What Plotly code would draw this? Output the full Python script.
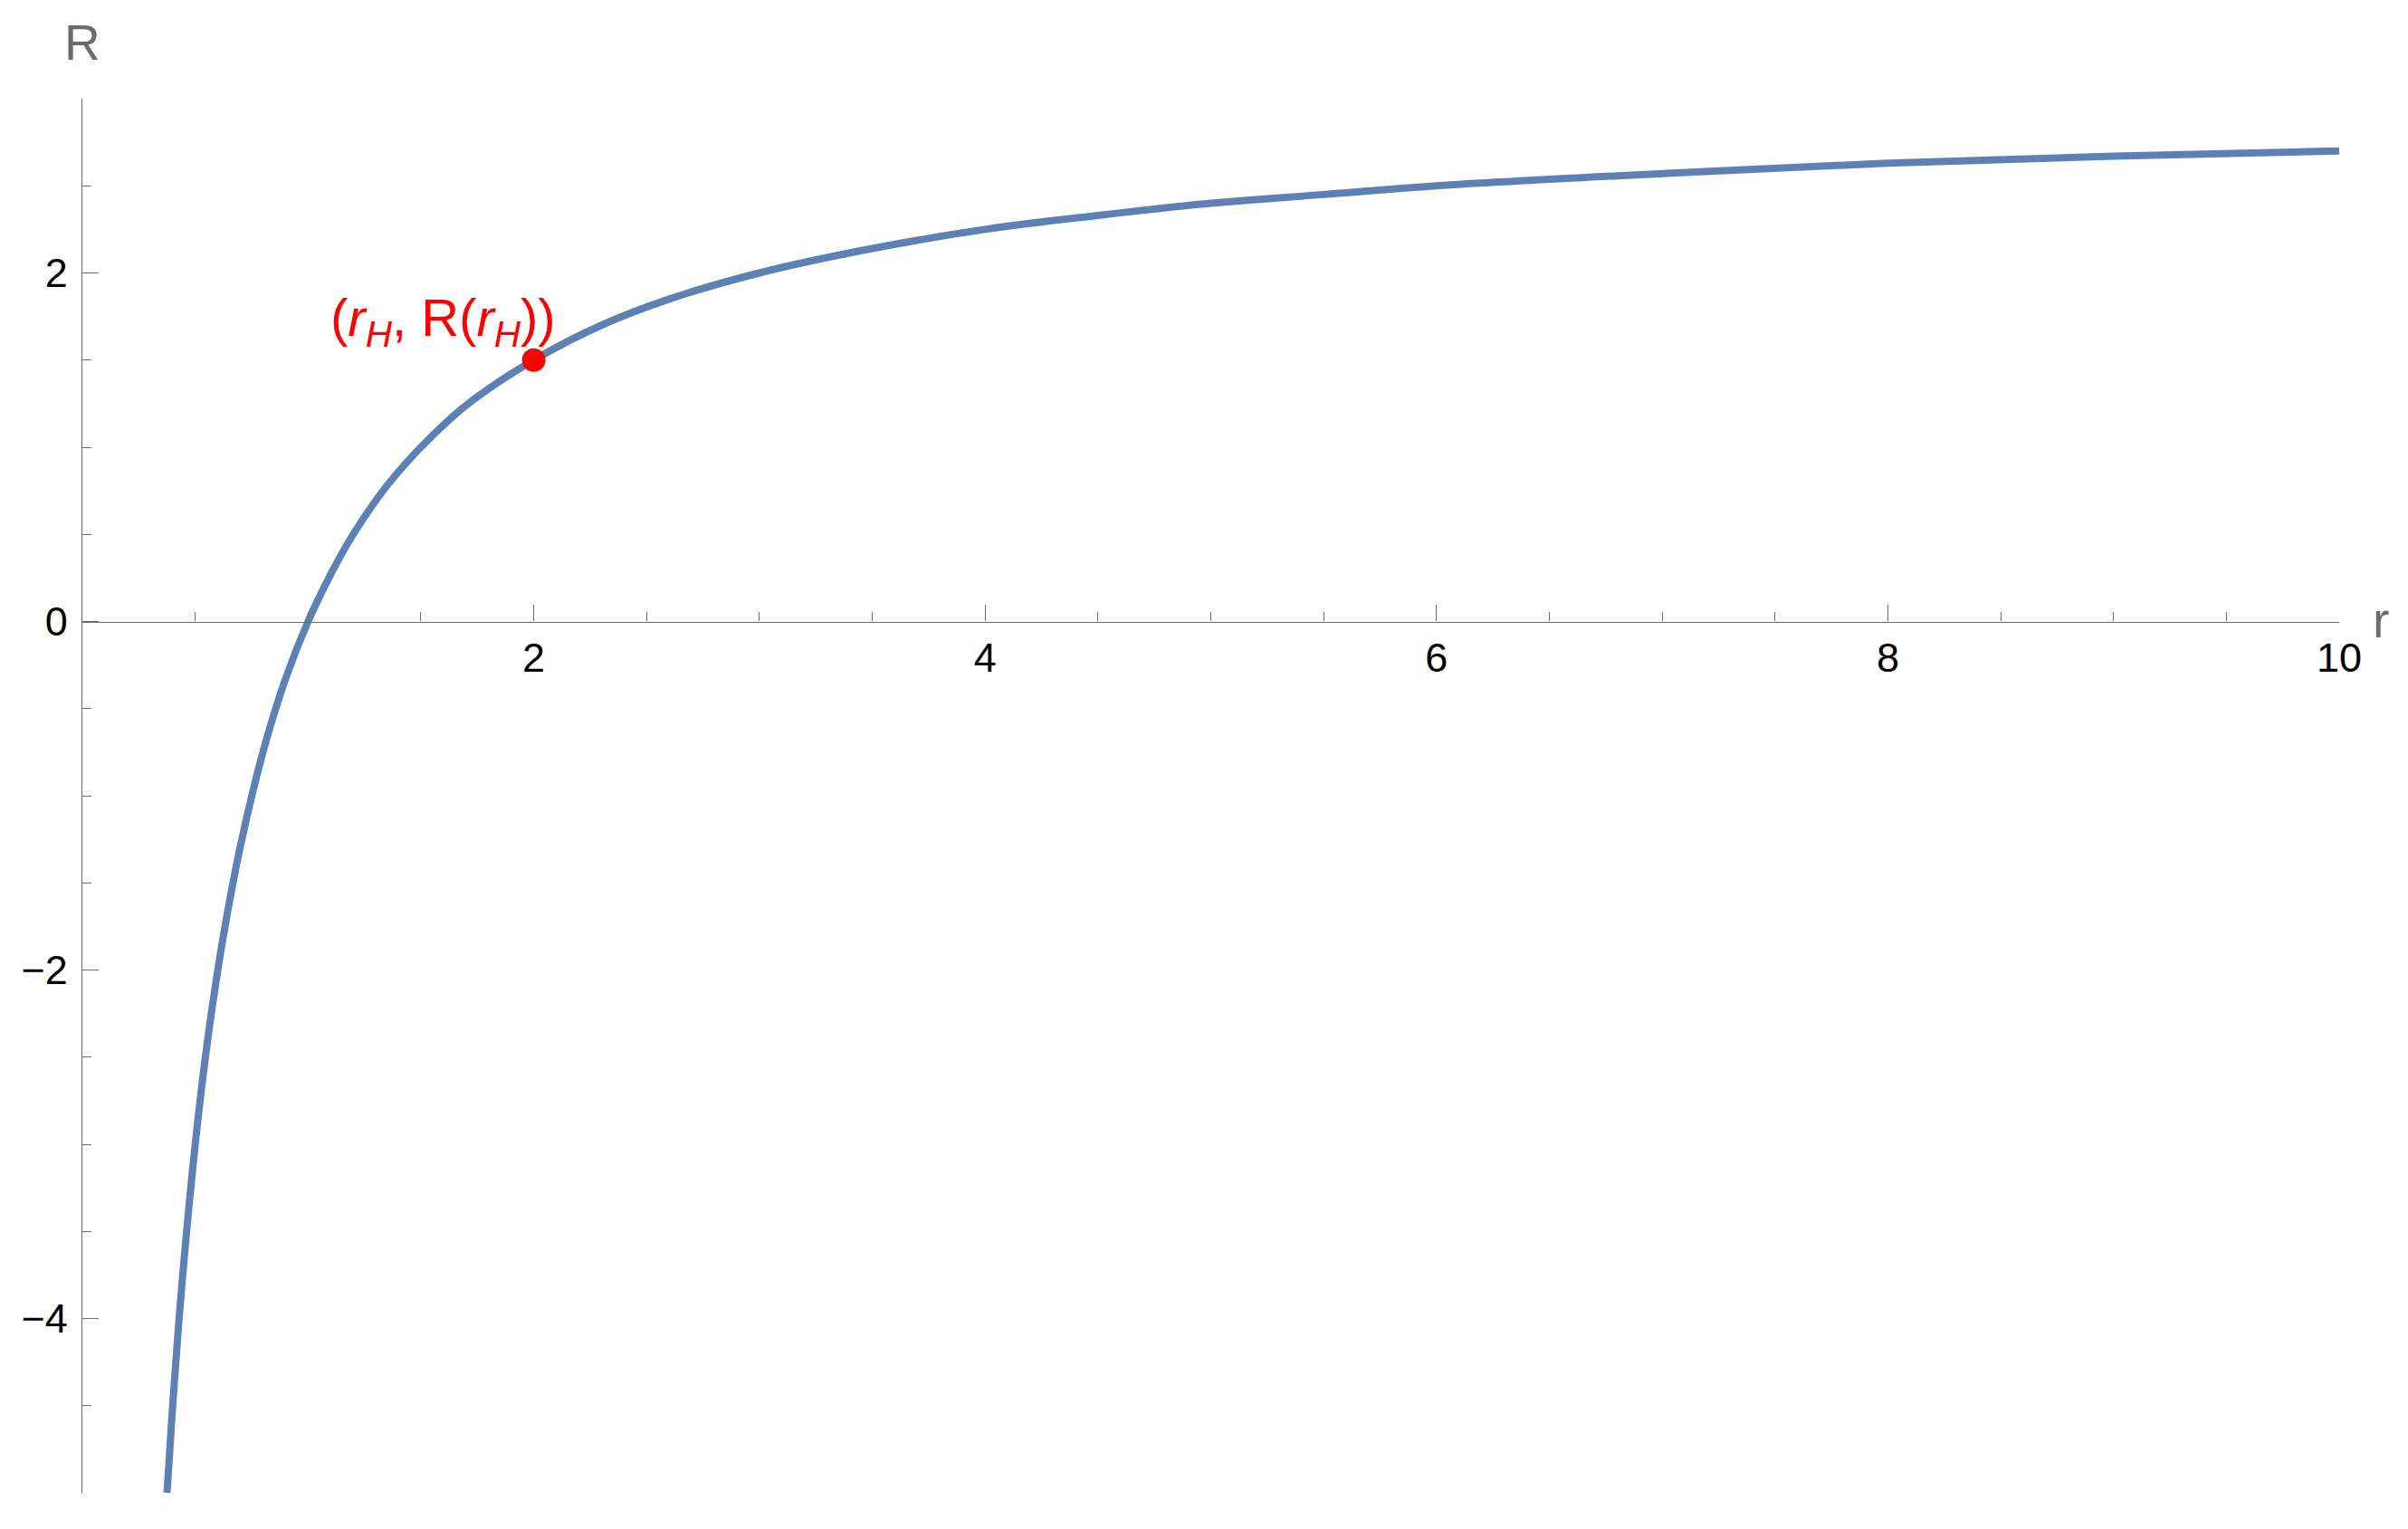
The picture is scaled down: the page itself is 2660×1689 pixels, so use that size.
import plotly.graph_objects as go

# values
r_vals = [0.375, 0.4, 0.425, 0.45, 0.5, 0.55, 0.6, 0.65, 0.7, 0.8, 0.9, 1.0, 1.1, 1.2,
          1.35, 1.5, 1.7, 2.0, 2.3, 2.6, 3.0, 3.5, 4.0, 4.5, 5.0, 5.5, 6.0, 7.0, 8.0, 9.0, 10.0]
R_vals = [-5.0, -4.5, -4.06, -3.67, -3.0, -2.45, -2.0, -1.62, -1.29, -0.75, -0.33, 0.0, 0.27, 0.5,
          0.78, 1.0, 1.24, 1.5, 1.70, 1.85, 2.0, 2.14, 2.25, 2.33, 2.4, 2.45, 2.5, 2.57, 2.63, 2.67, 2.7]

# horizon point
r_H = [2.0]
R_H = [1.5]

x_range = [0, 10]
y_range = [-5, 3]
x_ticks = [2, 4, 6, 8, 10]
y_ticks = [-4, -2, 0, 2]

FONT = "Liberation Sans, Arial, sans-serif"
AXIS_GREY = "#6b6b6b"
CURVE = "#5E81B5"

fig = go.Figure()
fig.add_trace(go.Scatter(x=r_vals, y=R_vals, mode="lines",
                         line=dict(color=CURVE, width=8, shape="spline"),
                         showlegend=False, hoverinfo="skip"))
fig.add_trace(go.Scatter(x=r_H, y=R_H, mode="markers",
                         marker=dict(color="#FF0000", size=26),
                         showlegend=False))

# x axis sits on R = 0
y0_frac = (0 - y_range[0]) / (y_range[1] - y_range[0])

# page body has an 8px margin, so the figure is a bit smaller and shifted
fig.update_layout(
    width=2652, height=1681,
    margin=dict(l=83, r=76, t=101, b=40),
    paper_bgcolor="white", plot_bgcolor="white",
    font=dict(family=FONT, size=45, color="black"),
    xaxis=dict(range=x_range, showgrid=False, zeroline=False, automargin=False,
               anchor="free", position=y0_frac, side="bottom",
               showline=True, linecolor=AXIS_GREY, linewidth=1.2,
               tickvals=x_ticks, ticks="inside", ticklen=18, tickwidth=1.2, tickcolor=AXIS_GREY,
               ticklabelstandoff=0,
               minor=dict(dtick=0.5, tick0=0, ticks="inside", ticklen=10, tickwidth=1.2, tickcolor=AXIS_GREY),
               tickfont=dict(family=FONT, size=45, color="black")),
    yaxis=dict(range=y_range, showgrid=False, zeroline=False, automargin=False,
               showline=True, linecolor=AXIS_GREY, linewidth=1.2,
               tickvals=y_ticks, ticktext=["\u22124", "\u22122", "0", "2"],
               ticks="inside", ticklen=18, tickwidth=1.2, tickcolor=AXIS_GREY,
               ticklabelstandoff=6,
               minor=dict(dtick=0.5, tick0=0, ticks="inside", ticklen=10, tickwidth=1.2, tickcolor=AXIS_GREY),
               tickfont=dict(family=FONT, size=45, color="black")),
    annotations=[
        dict(text="R", xref="paper", yref="paper", x=0.0, y=1.04, showarrow=False,
             xanchor="center", yanchor="middle", font=dict(family=FONT, size=55, color=AXIS_GREY)),
        dict(text="r", xref="paper", yref="paper", x=1.0185, y=0.626, showarrow=False,
             xanchor="center", yanchor="middle", font=dict(family=FONT, size=55, color=AXIS_GREY)),
        dict(text="(<i>r</i><sub><i>H</i></sub>, R(<i>r</i><sub><i>H</i></sub>))",
             x=1.6, y=1.72, xref="x", yref="y", showarrow=False,
             xanchor="center", yanchor="middle", font=dict(family=FONT, size=58, color="#FF0000")),
    ],
)

fig.write_html("out.html")
